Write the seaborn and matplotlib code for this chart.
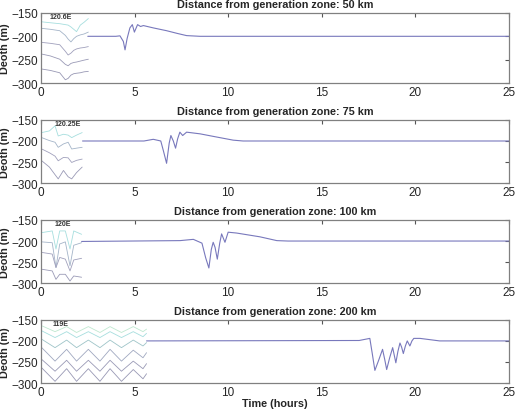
import matplotlib
matplotlib.use("Agg")
import matplotlib.pyplot as plt
import seaborn as sns
import pandas as pd

# main time series (time in hours, depth in m)
t1 = [2.5, 4.0, 4.22, 4.4, 4.49, 4.6, 4.75, 4.88, 4.99, 5.16, 5.32, 5.47, 6.0, 6.71, 7.3, 7.78, 8.5, 25]
d1 = [-200, -200, -199, -211, -229, -205, -182, -175, -191, -175, -179, -177, -182, -188, -194, -198.5, -200, -200]

t2 = [2.22, 5.5, 6.0, 6.4, 6.55, 6.71, 6.85, 6.94, 7.07, 7.19, 7.3, 7.42, 7.57, 7.78, 8.5, 9.2, 10.27, 10.8, 25]
d2 = [-200, -200, -196, -200, -225, -253, -205, -187, -200, -217, -195, -179, -187, -179, -183, -189, -198, -200, -200]

t3 = [2.17, 7.43, 8.14, 8.6, 8.8, 8.97, 9.1, 9.2, 9.3, 9.42, 9.55, 9.65, 9.83, 10.0, 10.45, 11.7, 12.6, 13.2, 25]
d3 = [-201, -199, -196, -205, -240, -264, -220, -203, -215, -243, -205, -183, -203, -179, -181, -190, -199, -200, -200]

t4 = [5.64, 17.0, 17.57, 17.7, 17.84, 18.05, 18.25, 18.37, 18.47, 18.63, 18.79, 18.88, 18.96, 19.07,
      19.18, 19.27, 19.36, 19.47, 19.57, 19.64, 19.71, 19.82, 19.92, 20.25, 21.3, 25]
d4 = [-200, -199, -194, -230, -270, -245, -220, -245, -268, -240, -216, -235, -252, -225,
      -205, -215, -230, -212, -200, -206, -212, -200, -194, -194, -200, -200]

# inset isoline sketches (left part of each panel)
ins1_x = [0.04, 0.5, 1.0, 1.3, 1.45, 1.6, 1.75, 1.9, 2.1, 2.3, 2.53]
ins1_y = [[-169, -171, -173, -175, -176, -180, -185, -190, -176, -170, -162],
          [-183, -185, -188, -198, -206, -212, -205, -200, -197, -195, -191],
          [-213, -215, -218, -232, -240, -236, -230, -227, -225, -224, -222],
          [-238, -242, -249, -260, -263, -258, -256, -255, -253, -251, -249],
          [-270, -273, -278, -293, -290, -283, -280, -279, -278, -276, -275]]

ins2_x = [0.04, 0.45, 0.75, 0.92, 1.2, 1.45, 1.64, 1.9, 2.2]
ins2_y = [[-180, -176, -164, -188, -184, -186, -192, -186, -180],
          [-192, -199, -203, -215, -207, -203, -219, -217, -215],
          [-219, -228, -236, -247, -239, -240, -251, -246, -243],
          [-247, -262, -280, -290, -270, -285, -290, -275, -262]]

ins3_x = [0.04, 0.6, 0.8, 1.0, 1.3, 1.55, 1.75, 2.17]
ins3_y = [[-180, -176, -219, -176, -176, -219, -176, -184],
          [-202, -204, -263, -207, -202, -259, -210, -204],
          [-227, -231, -263, -239, -243, -271, -245, -241],
          [-267, -271, -291, -279, -279, -295, -283, -286]]

ins4_x = [0.04, 0.75, 1.37, 1.9, 2.53, 3.15, 3.69, 4.3, 4.93, 5.45, 5.64]
ins4_y = [[-164, -178, -166, -180, -166, -180, -166, -180, -166, -178, -172],
          [-176, -192, -178, -192, -178, -192, -178, -192, -178, -190, -182],
          [-196, -216, -198, -216, -198, -216, -198, -216, -198, -212, -204],
          [-216, -248, -220, -248, -220, -248, -220, -248, -222, -240, -228],
          [-244, -272, -246, -272, -246, -272, -246, -272, -248, -266, -254],
          [-264, -296, -266, -296, -266, -296, -266, -296, -268, -290, -278]]

titles = ["Distance from generation zone: 50 km", "Distance from generation zone: 75 km",
          "Distance from generation zone: 100 km", "Distance from generation zone: 200 km"]
inset_labels = ["120.6E", "120.25E", "120E", "119E"]
label_x = [0.45, 0.75, 0.7, 0.6]
xticks = [0, 5, 10, 15, 20, 25]
yticks = [-300, -250, -200, -150]

sns.set_style("white")
plt.rcParams['font.family'] = ['Liberation Sans', 'DejaVu Sans']

fig = plt.figure(figsize=(5.17, 4.10), dpi=100)
rects = [[0.0793, 0.795, 0.905, 0.171],
         [0.0793, 0.551, 0.905, 0.154],
         [0.0793, 0.307, 0.905, 0.154],
         [0.0793, 0.0634, 0.905, 0.154]]

series = [(t1, d1), (t2, d2), (t3, d3), (t4, d4)]
insets = [(ins1_x, ins1_y), (ins2_x, ins2_y), (ins3_x, ins3_y), (ins4_x, ins4_y)]
ins_colors = {4: ['#a6dede', '#a4b4c8', '#a0a0bc', '#9a9ab6', '#9898b4'],
              5: ['#a6dede', '#a4b4c8', '#a0a0bc', '#9a9ab6', '#9898b4'],
              6: ['#bfe8d0', '#a6dede', '#9ec4c8', '#a0a8c0', '#9a9ab6', '#9898b4']}

for i in range(4):
    ax = fig.add_axes(rects[i])
    ix, iys = insets[i]
    cols = ins_colors[len(iys)]
    for j, iy in enumerate(iys):
        sns.lineplot(x=ix, y=iy, ax=ax, color=cols[j], linewidth=0.6,
                     estimator=None, sort=False)
    t, d = series[i]
    df = pd.DataFrame({"time": t, "depth": d})
    sns.lineplot(data=df, x="time", y="depth", ax=ax, color='#7878bc', linewidth=0.8,
                 estimator=None, sort=False)
    ax.text(label_x[i], -158, inset_labels[i], fontsize=5, fontweight='bold', color='#333333',
            ha='left', va='center')
    ax.set_xlim(0, 25)
    ax.set_ylim(-300, -150)
    ax.set_xticks(xticks)
    ax.set_yticks(yticks)
    ax.tick_params(direction='in', length=3, width=0.8, color='#555555', labelsize=8.5,
                   top=True, right=True, pad=2)
    for s in ax.spines.values():
        s.set_color('#808080')
        s.set_linewidth(0.9)
    ax.set_title(titles[i], fontsize=7.8, fontweight='bold', pad=4)
    ax.set_ylabel("Deoth (m)", fontsize=7.8, fontweight='bold', labelpad=1)
    ax.set_xlabel("")

ax.set_xlabel("Time (hours)", fontsize=7.8, fontweight='bold', labelpad=0)

fig.savefig("out.png", dpi=100)
